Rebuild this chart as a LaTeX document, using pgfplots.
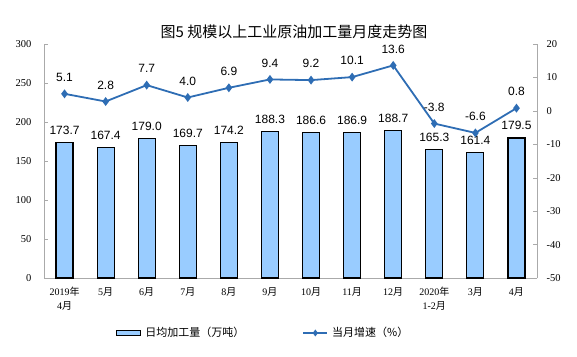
\documentclass[border=0pt]{standalone}
\usepackage{pgfplots}
\pgfplotsset{compat=1.18}
\usepackage{fontspec}
\setmainfont{Liberation Serif}
\newfontfamily\cjk{Noto Sans CJK SC}
\newfontfamily\arial{Liberation Sans}
\newcommand\zh[1]{{\cjk #1}}
\definecolor{barblue}{RGB}{153,204,255}
\definecolor{lineblue}{RGB}{46,109,180}
\definecolor{axgray}{RGB}{170,170,170}
\begin{document}
\begin{tikzpicture}[x=1pt,y=1pt]
\node[font=\cjk\fontsize{15}{17}\selectfont] at (294,324) {图5\ 规模以上工业原油加工量月度走势图};
\begin{axis}[
  at={(44pt,78pt)}, anchor=south west, scale only axis,
  width=493pt, height=234pt,
  xmin=-0.5, xmax=11.5, ymin=0, ymax=300,
  ytick={0,50,...,300},
  axis y line*=left, axis x line*=bottom,
  axis line style={axgray},
  every tick/.style={axgray},
  major tick length=4pt, minor tick length=3pt,
  xtick={0,...,11},
  x tick style={draw=none},
  minor xtick={0.5,1.5,...,10.5},
  minor x tick style={axgray},
  xticklabels={{2019\zh{年}\\4\zh{月}},5\zh{月},6\zh{月},7\zh{月},8\zh{月},9\zh{月},10\zh{月},11\zh{月},12\zh{月},{2020\zh{年}\\1-2\zh{月}},3\zh{月},4\zh{月}},
  xticklabel style={align=center, font=\fontsize{10}{14}\selectfont, anchor=north, yshift=-2pt},
  yticklabel style={font=\fontsize{10.5}{12}\selectfont, xshift=-9pt},
  /pgf/number format/assume math mode=true,
  ybar, bar width=17pt,
  nodes near coords,
  nodes near coords style={black, font=\arial\fontsize{12}{14}\selectfont, yshift=4pt, /pgf/number format/.cd, fixed, fixed zerofill, precision=1},
  clip=false,
]
\addplot[draw=black, line width=1.1pt, fill=barblue] coordinates {
(0,173.7) (1,167.4) (2,179.0) (3,169.7) (4,174.2) (5,188.3) (6,186.6) (7,186.9) (8,188.7) (9,165.3) (10,161.4) (11,179.5)};
\end{axis}
\begin{axis}[
  at={(44pt,78pt)}, anchor=south west, scale only axis,
  width=493pt, height=234pt,
  xmin=-0.5, xmax=11.5, ymin=-50, ymax=20,
  ytick={-50,-40,...,20},
  axis y line*=right, axis x line=none,
  axis line style={axgray},
  every tick/.style={axgray},
  major tick length=4pt,
  yticklabel style={font=\fontsize{10.5}{12}\selectfont, xshift=6pt},
  /pgf/number format/assume math mode=true,
  nodes near coords,
  nodes near coords align={anchor=south},
  nodes near coords style={black, anchor=south, font=\arial\fontsize{12}{14}\selectfont, yshift=8pt, /pgf/number format/.cd, fixed, fixed zerofill, precision=1},
  clip=false,
  legend columns=2,
  legend style={at={(0.14,-0.235)}, anchor=west, draw=none, fill=none, font=\cjk\fontsize{11}{13}\selectfont,
    /tikz/every odd column/.append style={column sep=2pt},
    /tikz/every even column/.append style={column sep=56pt}},
]
\addlegendimage{legend image code/.code={\draw[black, line width=1.2pt, fill=barblue] (0pt,-2.5pt) rectangle (24pt,2.5pt);}}
\addlegendentry{日均加工量（万吨）}
\addplot[lineblue, line width=1.8pt, mark=diamond*, mark size=3pt, mark options={solid, fill=lineblue},
  legend image code/.code={\draw[mark repeat=2, mark phase=2, mark size=2pt] plot coordinates {(0pt,0pt) (12pt,0pt) (24pt,0pt)};}] coordinates {
(0,5.1) (1,2.8) (2,7.7) (3,4.0) (4,6.9) (5,9.4) (6,9.2) (7,10.1) (8,13.6) (9,-3.8) (10,-6.6) (11,0.8)};
\addlegendentry{当月增速（\%）}
\end{axis}
\pgfresetboundingbox
\useasboundingbox (0,0) rectangle (577,356);
\end{tikzpicture}
\end{document}
